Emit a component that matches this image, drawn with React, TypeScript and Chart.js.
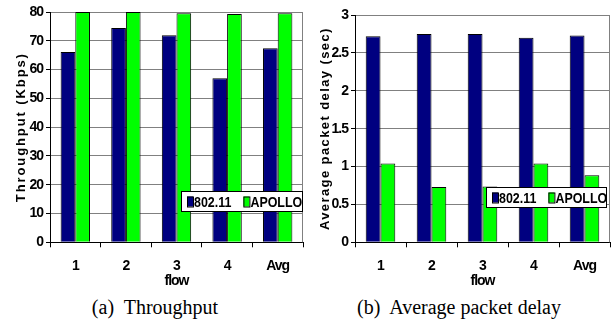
import React, { useEffect, useRef } from 'react';
import { Chart, registerables } from 'chart.js';

Chart.register(...registerables);

// ---- data ----
const categories = ['1', '2', '3', '4', 'Avg'];
const seriesNames = ['802.11', 'APOLLO'];
const throughput80211 = [66.1, 74.4, 71.9, 57.0, 67.4];
const throughputApollo = [80, 80, 79.6, 79.3, 79.6];
const delay80211 = [2.72, 2.75, 2.75, 2.7, 2.73];
const delayApollo = [1.04, 0.73, 0.735, 1.04, 0.885];
const throughputAxis = { min: 0, max: 80, step: 10 };
const delayAxis = { min: 0, max: 3, step: 0.5 };

const NAVY = '#000080';
const GREEN = '#00ff00';
const GRID = '#808080';
const SANS = "'Liberation Sans', Arial, sans-serif";

const extrasPlugin = {
  id: 'panelExtras',
  beforeDraw(chart: any) {
    (chart.ctx as any).letterSpacing = '-1px';
  },
  beforeDatasetsDraw(chart: any) {
    (chart.ctx as any).letterSpacing = '0px';
  },
  afterDatasetsDraw(chart: any, _args: any, opts: any) {
    const { ctx, chartArea } = chart;
    ctx.save();
    (ctx as any).letterSpacing = '0px';
    // right border of plot area
    ctx.strokeStyle = GRID;
    ctx.lineWidth = 1;
    const rx = Math.round(chartArea.right) - 0.5;
    ctx.beginPath();
    ctx.moveTo(rx, chartArea.top);
    ctx.lineTo(rx, chartArea.bottom);
    ctx.stroke();
    // legend box
    const { x, y, w, h } = opts.legend;
    ctx.fillStyle = '#ffffff';
    ctx.fillRect(x, y, w, h);
    ctx.strokeStyle = '#000';
    ctx.lineWidth = 1;
    ctx.strokeRect(x + 0.5, y + 0.5, w, h);
    ctx.font = `bold 15px ${SANS}`;
    ctx.textBaseline = 'middle';
    ctx.textAlign = 'left';
    const sx = 0.83;
    let cx = x + 6;
    const cy = y + h / 2 + 0.5;
    chart.data.datasets.forEach((d: any) => {
      ctx.fillStyle = d.backgroundColor;
      ctx.fillRect(cx, cy - 5, 6, 10);
      ctx.strokeStyle = '#000';
      ctx.strokeRect(cx + 0.5, cy - 5 + 0.5, 6, 10);
      ctx.fillStyle = '#000';
      ctx.save();
      ctx.translate(cx + 7, cy + 1);
      ctx.scale(sx, 1);
      ctx.fillText(d.label, 0, 0);
      ctx.restore();
      cx = cx + 7 + ctx.measureText(d.label).width * sx + 12;
    });
    ctx.restore();
  },
  afterDraw(chart: any, _args: any, opts: any) {
    const { ctx, chartArea } = chart;
    ctx.save();
    ctx.font = `bold 13px ${SANS}`;
    (ctx as any).letterSpacing = opts.titleSpacing + 'px';
    ctx.fillStyle = '#000';
    ctx.textAlign = 'center';
    ctx.textBaseline = 'middle';
    ctx.translate(opts.titleX, (chartArea.top + chartArea.bottom) / 2);
    ctx.rotate(-Math.PI / 2);
    ctx.fillText(opts.title, 0, 0);
    ctx.restore();
    (ctx as any).letterSpacing = '0px';
  },
};

type PanelProps = {
  a: number[];
  b: number[];
  axis: { min: number; max: number; step: number };
  yTitle: string;
  titleSpacing: number;
  titleX: number;
  axisWidth: number;
  padTop: number;
  padRight: number;
  legend: { x: number; y: number; w: number; h: number };
};

function Panel(p: PanelProps) {
  const ref = useRef<HTMLCanvasElement>(null);
  useEffect(() => {
    if (!ref.current) return;
    const chart = new Chart(ref.current, {
      type: 'bar',
      data: {
        labels: categories,
        datasets: [
          { label: seriesNames[0], data: p.a, backgroundColor: NAVY, borderColor: '#000', borderWidth: 1 },
          { label: seriesNames[1], data: p.b, backgroundColor: GREEN, borderColor: '#000', borderWidth: 1 },
        ],
      },
      options: {
        animation: false,
        responsive: false,
        devicePixelRatio: 1,
        layout: { padding: { top: p.padTop, right: p.padRight, left: 0, bottom: 0 } },
        datasets: { bar: { categoryPercentage: 0.58, barPercentage: 1 } },
        plugins: {
          legend: { display: false },
          tooltip: { enabled: false },
          panelExtras: { legend: p.legend, title: p.yTitle, titleSpacing: p.titleSpacing, titleX: p.titleX },
        } as any,
        scales: {
          x: {
            offset: true,
            grid: { display: true, drawOnChartArea: false, drawTicks: true, tickLength: 5, tickColor: '#000', offset: true },
            border: { color: '#000', width: 1 },
            ticks: { color: '#000', padding: 10, font: { family: SANS, size: 14, weight: 'bold' } },
            title: { display: true, text: 'flow', color: '#000', padding: { top: 0, bottom: 0 }, font: { family: SANS, size: 14, weight: 'bold' } },
            afterFit: (s: any) => { s.height = 47.7; },
          },
          y: {
            min: p.axis.min,
            max: p.axis.max,
            grid: { color: GRID, tickColor: '#000', tickLength: 4 },
            border: { color: '#000', width: 1 },
            ticks: {
              stepSize: p.axis.step,
              color: '#000',
              padding: 3,
              font: { family: SANS, size: 14, weight: 'bold' },
              callback: (v: any) => String(Number(v)),
            },
            afterFit: (s: any) => { s.width = p.axisWidth; },
          },
        },
      },
      plugins: [extrasPlugin],
    } as any);
    return () => chart.destroy();
  }, []);
  return <canvas ref={ref} width={306} height={290} style={{ display: 'block', width: 306, height: 290 }} />;
}

const captionStyle: React.CSSProperties = {
  position: 'absolute',
  top: 296,
  width: 306,
  textAlign: 'center',
  fontFamily: "'Liberation Serif', 'Times New Roman', serif",
  fontSize: 20,
  lineHeight: '23px',
  whiteSpace: 'pre',
  color: '#000',
};

export default function App() {
  return (
    <div style={{ position: 'fixed', left: 0, top: 0, width: 612, height: 325, background: '#fff', overflow: 'hidden' }}>
      <div style={{ position: 'absolute', left: 0, top: 0 }}>
        <Panel
          a={throughput80211}
          b={throughputApollo}
          axis={throughputAxis}
          yTitle="Throughput (Kbps)"
          titleSpacing={1.9}
          titleX={21}
          axisWidth={50}
          padTop={12}
          padRight={3}
          legend={{ x: 181, y: 191, w: 121, h: 20 }}
        />
      </div>
      <div style={{ position: 'absolute', left: 306, top: 0 }}>
        <Panel
          a={delay80211}
          b={delayApollo}
          axis={delayAxis}
          yTitle="Average packet delay (sec)"
          titleSpacing={1.4}
          titleX={19.5}
          axisWidth={49}
          padTop={15}
          padRight={2}
          legend={{ x: 180, y: 187, w: 120, h: 20 }}
        />
      </div>
      <div style={{ ...captionStyle, left: 2 }}>{'(a)  Throughput'}</div>
      <div style={{ ...captionStyle, left: 306 }}>{'(b)  Average packet delay'}</div>
    </div>
  );
}
